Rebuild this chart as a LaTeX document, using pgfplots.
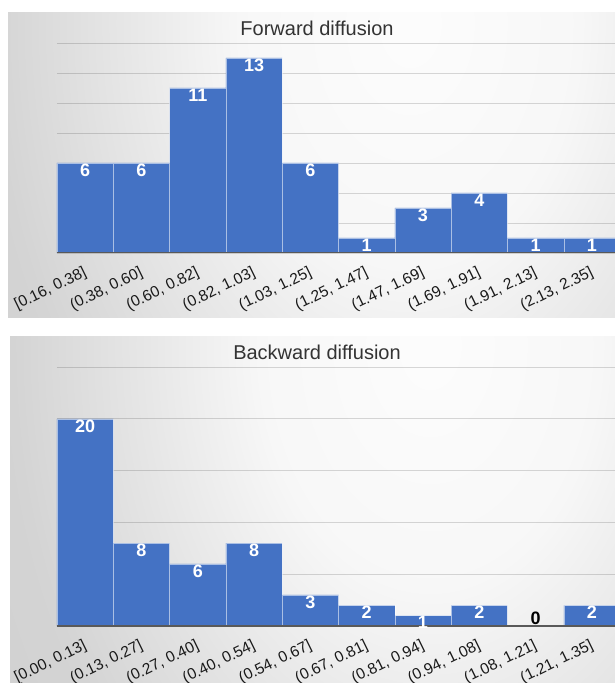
\documentclass[border=0pt]{standalone}
\usepackage{fontspec}
\setmainfont{Liberation Sans}
\usepackage{pgfplots}
\pgfplotsset{compat=1.18}
\definecolor{barblue}{HTML}{4472C4}
\pgfdeclareradialshading{bgshade}{\pgfpoint{0bp}{0bp}}{color(0bp)=(black!1); color(10bp)=(black!3); color(25bp)=(black!17); color(50bp)=(black!22)}
\pgfplotsset{
  histo/.style={
    anchor=south west, scale only axis, width=558pt,
    xmin=-0.5, xmax=9.41, ymin=0,
    yticklabels={}, ymajorgrids, grid style={black, opacity=0.15, line width=0.9pt},
    xtick={0,...,9}, major tick length=0pt,
    axis line style={draw=none},
    xticklabel style={rotate=26, anchor=north east, font=\fontsize{15.5}{17}\selectfont, text=black!90, inner sep=0pt, yshift=-10pt, xshift=-8pt},
    /pgf/number format/assume math mode=true,
    clip=true,
  },
  barstyle/.style={ybar, bar width=1, bar shift=0pt, fill=barblue, draw=white, draw opacity=0.55, line width=0.5pt,
    nodes near coords, nodes near coords style={font=\fontsize{18}{20}\selectfont\bfseries, text=white, anchor=north, inner sep=0.5pt}},
}
\begin{document}
\begin{tikzpicture}[x=1pt,y=1pt]
\path[use as bounding box] (0,0) rectangle (615,683);
\begin{scope}
\clip (8,365) rectangle (615,670);
\shade[shading=bgshade] (-10,60) rectangle (830,1260);
\end{scope}
\begin{scope}
\clip (8,0) rectangle (615,346);
\shade[shading=bgshade] (10,-262) rectangle (850,938);
\end{scope}
\node[font=\fontsize{20}{23}\selectfont, text=black!80] at (317,655) {Forward diffusion};
\node[font=\fontsize{20}{23}\selectfont, text=black!80] at (317,331) {Backward diffusion};

\begin{axis}[histo, at={(57pt,430pt)}, height=210pt, ymax=14, ytick={0,2,...,14},
  xticklabels={{[0.16, 0.38]},{(0.38, 0.60]},{(0.60, 0.82]},{(0.82, 1.03]},{(1.03, 1.25]},{(1.25, 1.47]},{(1.47, 1.69]},{(1.69, 1.91]},{(1.91, 2.13]},{(2.13, 2.35]}}]
\addplot[barstyle] coordinates {(0,6) (1,6) (2,11) (3,13) (4,6) (5,1) (6,3) (7,4) (8,1) (9,1)};
\draw[black!65, line width=1.5pt] (rel axis cs:0,0) -- (rel axis cs:1,0);
\end{axis}

\begin{axis}[histo, at={(57pt,57pt)}, height=259pt, ymax=25, ytick={0,5,...,25},
  xticklabels={{[0.00, 0.13]},{(0.13, 0.27]},{(0.27, 0.40]},{(0.40, 0.54]},{(0.54, 0.67]},{(0.67, 0.81]},{(0.81, 0.94]},{(0.94, 1.08]},{(1.08, 1.21]},{(1.21, 1.35]}}]
\addplot[barstyle] coordinates {(0,20) (1,8) (2,6) (3,8) (4,3) (5,2) (6,1) (7,2) (9,2)};
\addplot[ybar, bar width=1, bar shift=0pt, draw=none, fill=none,
  nodes near coords, nodes near coords style={font=\fontsize{18}{20}\selectfont\bfseries, text=black, anchor=south, inner sep=1.5pt}]
  coordinates {(8,0)};
\draw[black!65, line width=1.5pt] (rel axis cs:0,0) -- (rel axis cs:1,0);
\end{axis}
\end{tikzpicture}
\end{document}
